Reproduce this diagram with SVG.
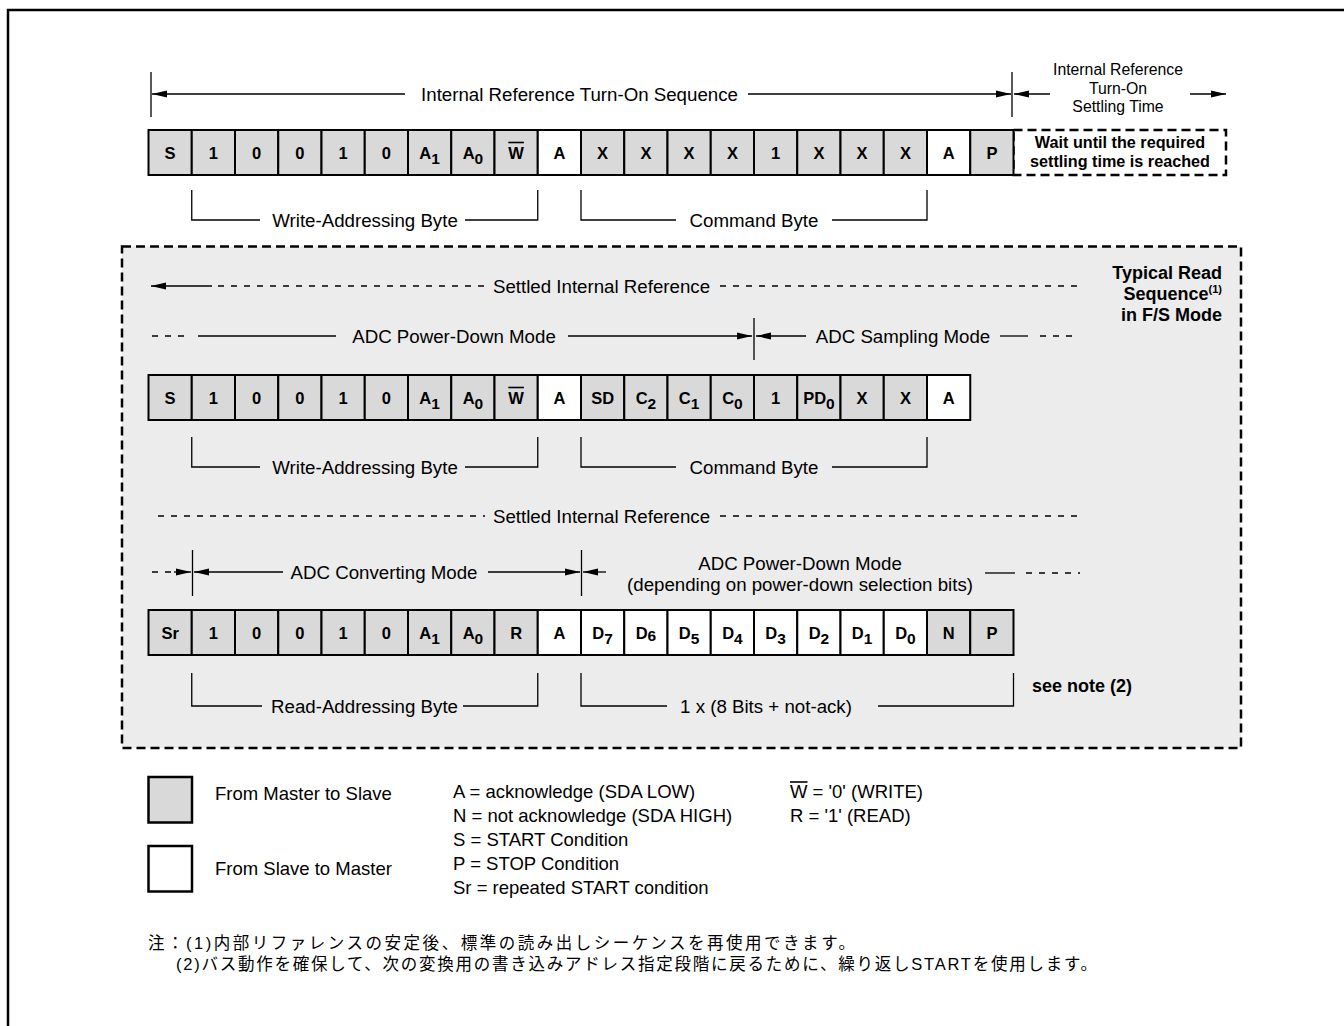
<svg xmlns="http://www.w3.org/2000/svg" width="1344" height="1026" viewBox="0 0 1344 1026">
<defs>
<marker id="ah" markerUnits="userSpaceOnUse" markerWidth="15" markerHeight="7" refX="15" refY="3.5" orient="auto-start-reverse" overflow="visible">
<path d="M0,0 L15,3.5 L0,7 z" fill="#000"/>
</marker>
<style>
.cg{fill:#d9d9d9;stroke:#000;stroke-width:2}
.cw{fill:#fff;stroke:#000;stroke-width:2}
.lb{font-family:"Liberation Sans",Arial,sans-serif;font-weight:bold;font-size:16.5px;text-anchor:middle;fill:#000}
.sb{font-size:15.5px}
.t{font-family:"Liberation Sans",Arial,sans-serif;font-size:18.7px;fill:#000}
.tm{text-anchor:middle}
.ts{font-family:"Liberation Sans",Arial,sans-serif;font-size:15.8px;fill:#000;text-anchor:middle}
.tb{font-family:"Liberation Sans",Arial,sans-serif;font-size:16.2px;font-weight:bold;fill:#000}
.tb2{font-family:"Liberation Sans",Arial,sans-serif;font-size:18px;font-weight:bold;fill:#000}
.lg{font-family:"Liberation Sans",Arial,sans-serif;font-size:18.5px;fill:#000}
.jp{font-family:"Liberation Sans","Noto Sans CJK JP",sans-serif;font-size:16.5px;fill:#000}
.ln{stroke:#000;stroke-width:1.3;fill:none}
.dl{stroke:#000;stroke-width:1.3;fill:none;stroke-dasharray:6 7}
.ov{stroke:#000;stroke-width:1.6}
</style>
</defs>
<rect width="1344" height="1026" fill="#fff"/>
<path d="M8,1026 V10 H1344" fill="none" stroke="#000" stroke-width="2.5"/>

<g id="panel">
<rect x="122" y="246.5" width="1119" height="501.5" fill="#ececec" stroke="#000" stroke-width="2.5" stroke-dasharray="9 5"/>
</g>

<g id="settling-box">
<rect x="1013.5" y="130" width="212.5" height="45" fill="#fff" stroke="#000" stroke-width="2.5" stroke-dasharray="9 5"/>
<text class="tb" text-anchor="middle" x="1120" y="148">Wait until the required</text>
<text class="tb" text-anchor="middle" x="1120" y="167">settling time is reached</text>
</g>

<g id="row1">
<g id="r1c0"><rect class="cg" x="148.5" y="130" width="43.25" height="45"/><text class="lb" x="170.1" y="158.5">S</text></g>
<g id="r1c1"><rect class="cg" x="191.75" y="130" width="43.25" height="45"/><text class="lb" x="213.4" y="158.5">1</text></g>
<g id="r1c2"><rect class="cg" x="235" y="130" width="43.25" height="45"/><text class="lb" x="256.6" y="158.5">0</text></g>
<g id="r1c3"><rect class="cg" x="278.25" y="130" width="43.25" height="45"/><text class="lb" x="299.9" y="158.5">0</text></g>
<g id="r1c4"><rect class="cg" x="321.5" y="130" width="43.25" height="45"/><text class="lb" x="343.1" y="158.5">1</text></g>
<g id="r1c5"><rect class="cg" x="364.75" y="130" width="43.25" height="45"/><text class="lb" x="386.4" y="158.5">0</text></g>
<g id="r1c6"><rect class="cg" x="408" y="130" width="43.25" height="45"/><text class="lb" x="429.6" y="158.5">A<tspan class="sb" dy="5">1</tspan></text></g>
<g id="r1c7"><rect class="cg" x="451.25" y="130" width="43.25" height="45"/><text class="lb" x="472.9" y="158.5">A<tspan class="sb" dy="5">0</tspan></text></g>
<g id="r1c8"><rect class="cg" x="494.5" y="130" width="43.25" height="45"/><text class="lb" x="516.1" y="158.5">W</text><line class="ov" x1="508.3" y1="142.5" x2="523.9" y2="142.5"/></g>
<g id="r1c9"><rect class="cw" x="537.75" y="130" width="43.25" height="45"/><text class="lb" x="559.4" y="158.5">A</text></g>
<g id="r1c10"><rect class="cg" x="581" y="130" width="43.25" height="45"/><text class="lb" x="602.6" y="158.5">X</text></g>
<g id="r1c11"><rect class="cg" x="624.25" y="130" width="43.25" height="45"/><text class="lb" x="645.9" y="158.5">X</text></g>
<g id="r1c12"><rect class="cg" x="667.5" y="130" width="43.25" height="45"/><text class="lb" x="689.1" y="158.5">X</text></g>
<g id="r1c13"><rect class="cg" x="710.75" y="130" width="43.25" height="45"/><text class="lb" x="732.4" y="158.5">X</text></g>
<g id="r1c14"><rect class="cg" x="754" y="130" width="43.25" height="45"/><text class="lb" x="775.6" y="158.5">1</text></g>
<g id="r1c15"><rect class="cg" x="797.25" y="130" width="43.25" height="45"/><text class="lb" x="818.9" y="158.5">X</text></g>
<g id="r1c16"><rect class="cg" x="840.5" y="130" width="43.25" height="45"/><text class="lb" x="862.1" y="158.5">X</text></g>
<g id="r1c17"><rect class="cg" x="883.75" y="130" width="43.25" height="45"/><text class="lb" x="905.4" y="158.5">X</text></g>
<g id="r1c18"><rect class="cw" x="927" y="130" width="43.25" height="45"/><text class="lb" x="948.6" y="158.5">A</text></g>
<g id="r1c19"><rect class="cg" x="970.25" y="130" width="43.25" height="45"/><text class="lb" x="991.9" y="158.5">P</text></g>
</g>

<g id="row2">
<g id="r2c0"><rect class="cg" x="148.5" y="375" width="43.25" height="45"/><text class="lb" x="170.1" y="403.5">S</text></g>
<g id="r2c1"><rect class="cg" x="191.75" y="375" width="43.25" height="45"/><text class="lb" x="213.4" y="403.5">1</text></g>
<g id="r2c2"><rect class="cg" x="235" y="375" width="43.25" height="45"/><text class="lb" x="256.6" y="403.5">0</text></g>
<g id="r2c3"><rect class="cg" x="278.25" y="375" width="43.25" height="45"/><text class="lb" x="299.9" y="403.5">0</text></g>
<g id="r2c4"><rect class="cg" x="321.5" y="375" width="43.25" height="45"/><text class="lb" x="343.1" y="403.5">1</text></g>
<g id="r2c5"><rect class="cg" x="364.75" y="375" width="43.25" height="45"/><text class="lb" x="386.4" y="403.5">0</text></g>
<g id="r2c6"><rect class="cg" x="408" y="375" width="43.25" height="45"/><text class="lb" x="429.6" y="403.5">A<tspan class="sb" dy="5">1</tspan></text></g>
<g id="r2c7"><rect class="cg" x="451.25" y="375" width="43.25" height="45"/><text class="lb" x="472.9" y="403.5">A<tspan class="sb" dy="5">0</tspan></text></g>
<g id="r2c8"><rect class="cg" x="494.5" y="375" width="43.25" height="45"/><text class="lb" x="516.1" y="403.5">W</text><line class="ov" x1="508.3" y1="387.5" x2="523.9" y2="387.5"/></g>
<g id="r2c9"><rect class="cw" x="537.75" y="375" width="43.25" height="45"/><text class="lb" x="559.4" y="403.5">A</text></g>
<g id="r2c10"><rect class="cg" x="581" y="375" width="43.25" height="45"/><text class="lb" x="602.6" y="403.5">SD</text></g>
<g id="r2c11"><rect class="cg" x="624.25" y="375" width="43.25" height="45"/><text class="lb" x="645.9" y="403.5">C<tspan class="sb" dy="5">2</tspan></text></g>
<g id="r2c12"><rect class="cg" x="667.5" y="375" width="43.25" height="45"/><text class="lb" x="689.1" y="403.5">C<tspan class="sb" dy="5">1</tspan></text></g>
<g id="r2c13"><rect class="cg" x="710.75" y="375" width="43.25" height="45"/><text class="lb" x="732.4" y="403.5">C<tspan class="sb" dy="5">0</tspan></text></g>
<g id="r2c14"><rect class="cg" x="754" y="375" width="43.25" height="45"/><text class="lb" x="775.6" y="403.5">1</text></g>
<g id="r2c15"><rect class="cg" x="797.25" y="375" width="43.25" height="45"/><text class="lb" x="818.9" y="403.5">PD<tspan class="sb" dy="5">0</tspan></text></g>
<g id="r2c16"><rect class="cg" x="840.5" y="375" width="43.25" height="45"/><text class="lb" x="862.1" y="403.5">X</text></g>
<g id="r2c17"><rect class="cg" x="883.75" y="375" width="43.25" height="45"/><text class="lb" x="905.4" y="403.5">X</text></g>
<g id="r2c18"><rect class="cw" x="927" y="375" width="43.25" height="45"/><text class="lb" x="948.6" y="403.5">A</text></g>
</g>

<g id="row3">
<g id="r3c0"><rect class="cg" x="148.5" y="610" width="43.25" height="45"/><text class="lb" x="170.1" y="638.5">Sr</text></g>
<g id="r3c1"><rect class="cg" x="191.75" y="610" width="43.25" height="45"/><text class="lb" x="213.4" y="638.5">1</text></g>
<g id="r3c2"><rect class="cg" x="235" y="610" width="43.25" height="45"/><text class="lb" x="256.6" y="638.5">0</text></g>
<g id="r3c3"><rect class="cg" x="278.25" y="610" width="43.25" height="45"/><text class="lb" x="299.9" y="638.5">0</text></g>
<g id="r3c4"><rect class="cg" x="321.5" y="610" width="43.25" height="45"/><text class="lb" x="343.1" y="638.5">1</text></g>
<g id="r3c5"><rect class="cg" x="364.75" y="610" width="43.25" height="45"/><text class="lb" x="386.4" y="638.5">0</text></g>
<g id="r3c6"><rect class="cg" x="408" y="610" width="43.25" height="45"/><text class="lb" x="429.6" y="638.5">A<tspan class="sb" dy="5">1</tspan></text></g>
<g id="r3c7"><rect class="cg" x="451.25" y="610" width="43.25" height="45"/><text class="lb" x="472.9" y="638.5">A<tspan class="sb" dy="5">0</tspan></text></g>
<g id="r3c8"><rect class="cg" x="494.5" y="610" width="43.25" height="45"/><text class="lb" x="516.1" y="638.5">R</text></g>
<g id="r3c9"><rect class="cw" x="537.75" y="610" width="43.25" height="45"/><text class="lb" x="559.4" y="638.5">A</text></g>
<g id="r3c10"><rect class="cw" x="581" y="610" width="43.25" height="45"/><text class="lb" x="602.6" y="638.5">D<tspan class="sb" dy="5">7</tspan></text></g>
<g id="r3c11"><rect class="cw" x="624.25" y="610" width="43.25" height="45"/><text class="lb" x="645.9" y="638.5">D<tspan class="sb" dy="2">6</tspan></text></g>
<g id="r3c12"><rect class="cw" x="667.5" y="610" width="43.25" height="45"/><text class="lb" x="689.1" y="638.5">D<tspan class="sb" dy="5">5</tspan></text></g>
<g id="r3c13"><rect class="cw" x="710.75" y="610" width="43.25" height="45"/><text class="lb" x="732.4" y="638.5">D<tspan class="sb" dy="5">4</tspan></text></g>
<g id="r3c14"><rect class="cw" x="754" y="610" width="43.25" height="45"/><text class="lb" x="775.6" y="638.5">D<tspan class="sb" dy="5">3</tspan></text></g>
<g id="r3c15"><rect class="cw" x="797.25" y="610" width="43.25" height="45"/><text class="lb" x="818.9" y="638.5">D<tspan class="sb" dy="5">2</tspan></text></g>
<g id="r3c16"><rect class="cw" x="840.5" y="610" width="43.25" height="45"/><text class="lb" x="862.1" y="638.5">D<tspan class="sb" dy="5">1</tspan></text></g>
<g id="r3c17"><rect class="cw" x="883.75" y="610" width="43.25" height="45"/><text class="lb" x="905.4" y="638.5">D<tspan class="sb" dy="5">0</tspan></text></g>
<g id="r3c18"><rect class="cg" x="927" y="610" width="43.25" height="45"/><text class="lb" x="948.6" y="638.5">N</text></g>
<g id="r3c19"><rect class="cg" x="970.25" y="610" width="43.25" height="45"/><text class="lb" x="991.9" y="638.5">P</text></g>
</g>

<g id="connectors">
<line class="ln" x1="151" y1="72" x2="151" y2="117"/>
<line class="ln" x1="405" y1="94" x2="152" y2="94" marker-end="url(#ah)"/>
<line class="ln" x1="748" y1="94" x2="1011" y2="94" marker-end="url(#ah)"/>
<line class="ln" x1="1012" y1="72" x2="1012" y2="117"/>
<line class="ln" x1="1050" y1="94" x2="1014" y2="94" marker-end="url(#ah)"/>
<line class="ln" x1="1190" y1="94" x2="1226" y2="94" marker-end="url(#ah)"/>
<path class="ln" d="M191.75,190 V220 H260 M465,220 H537.75 V190"/>
<path class="ln" d="M581,190 V220 H676 M832,220 H927 V190"/>
<line class="ln" x1="212" y1="286" x2="151" y2="286" marker-end="url(#ah)"/>
<line class="dl" x1="218" y1="286" x2="485" y2="286"/>
<line class="dl" x1="720" y1="286" x2="1082" y2="286"/>
<line class="dl" x1="152" y1="336" x2="186" y2="336"/>
<line class="ln" x1="198" y1="336" x2="336" y2="336"/>
<line class="ln" x1="568" y1="336" x2="752" y2="336" marker-end="url(#ah)"/>
<line class="ln" x1="754" y1="318" x2="754" y2="360"/>
<line class="ln" x1="806" y1="336" x2="756" y2="336" marker-end="url(#ah)"/>
<line class="ln" x1="1000" y1="336" x2="1028" y2="336"/>
<line class="dl" x1="1040" y1="336" x2="1078" y2="336"/>
<path class="ln" d="M191.75,437 V467 H260 M465,467 H537.75 V437"/>
<path class="ln" d="M581,437 V467 H676 M832,467 H927 V437"/>
<line class="dl" x1="158" y1="516" x2="485" y2="516"/>
<line class="dl" x1="720" y1="516" x2="1082" y2="516"/>
<line class="dl" x1="152" y1="572" x2="171" y2="572"/>
<line class="ln" x1="174" y1="572" x2="191" y2="572" marker-end="url(#ah)"/>
<line class="ln" x1="192.5" y1="550" x2="192.5" y2="596"/>
<line class="ln" x1="283" y1="572" x2="194" y2="572" marker-end="url(#ah)"/>
<line class="ln" x1="488" y1="572" x2="580" y2="572" marker-end="url(#ah)"/>
<line class="ln" x1="581.5" y1="550" x2="581.5" y2="596"/>
<line class="ln" x1="606" y1="572" x2="583" y2="572" marker-end="url(#ah)"/>
<line class="ln" x1="985" y1="573" x2="1015" y2="573"/>
<line class="dl" x1="1026" y1="573" x2="1080" y2="573"/>
<path class="ln" d="M191.75,673 V706 H262 M463,706 H537.75 V673"/>
<path class="ln" d="M581,673 V706 H667 M878,706 H1013.5 V673"/>
</g>

<g id="labels">
<text class="t tm" x="579.5" y="100.5">Internal Reference Turn-On Sequence</text>
<text class="ts" x="1118" y="75">Internal Reference</text>
<text class="ts" x="1118" y="93.5">Turn-On</text>
<text class="ts" x="1118" y="112">Settling Time</text>
<text class="t tm" x="365" y="226.5">Write-Addressing Byte</text>
<text class="t tm" x="754" y="226.5">Command Byte</text>
<text class="t tm" x="601.5" y="292.5">Settled Internal Reference</text>
<text class="t tm" x="454" y="342.5">ADC Power-Down Mode</text>
<text class="t tm" x="903" y="342.5">ADC Sampling Mode</text>
<text class="t tm" x="365" y="473.5">Write-Addressing Byte</text>
<text class="t tm" x="754" y="473.5">Command Byte</text>
<text class="t tm" x="601.5" y="522.5">Settled Internal Reference</text>
<text class="t tm" x="384" y="578.5">ADC Converting Mode</text>
<text class="t tm" x="800" y="570">ADC Power-Down Mode</text>
<text class="t tm" x="800" y="591">(depending on power-down selection bits)</text>
<text class="t tm" x="364.5" y="712.5">Read-Addressing Byte</text>
<text class="t tm" x="766" y="712.5">1 x (8 Bits + not-ack)</text>
<text class="tb2" x="1032" y="692">see note (2)</text>
<text class="tb2" text-anchor="end" x="1222" y="279">Typical Read</text>
<text class="tb2" text-anchor="end" x="1222" y="300">Sequence<tspan font-size="11" dy="-7">(1)</tspan></text>
<text class="tb2" text-anchor="end" x="1222" y="321">in F/S Mode</text>
</g>

<g id="legend">
<rect x="148.5" y="777" width="43.5" height="45.5" fill="#d9d9d9" stroke="#000" stroke-width="2.5"/>
<rect x="148.5" y="846" width="43.5" height="45.5" fill="#fff" stroke="#000" stroke-width="2.5"/>
<text class="lg" x="215" y="800">From Master to Slave</text>
<text class="lg" x="215" y="875">From Slave to Master</text>
<text class="lg" x="453" y="798">A = acknowledge (SDA LOW)</text>
<text class="lg" x="453" y="822">N = not acknowledge (SDA HIGH)</text>
<text class="lg" x="453" y="846">S = START Condition</text>
<text class="lg" x="453" y="870">P = STOP Condition</text>
<text class="lg" x="453" y="894">Sr = repeated START condition</text>
<text class="lg" x="790" y="798">W = '0' (WRITE)</text>
<line class="ov" x1="790" y1="782" x2="807.5" y2="782"/>
<text class="lg" x="790" y="822">R = '1' (READ)</text>
</g>

<g id="notes">
<text class="jp" x="148" y="949" textLength="707" lengthAdjust="spacing">注：(1)内部リファレンスの安定後、標準の読み出しシーケンスを再使用できます。</text>
<text class="jp" x="176" y="970" textLength="921" lengthAdjust="spacing">(2)バス動作を確保して、次の変換用の書き込みアドレス指定段階に戻るために、繰り返しSTARTを使用します。</text>
</g>
</svg>
